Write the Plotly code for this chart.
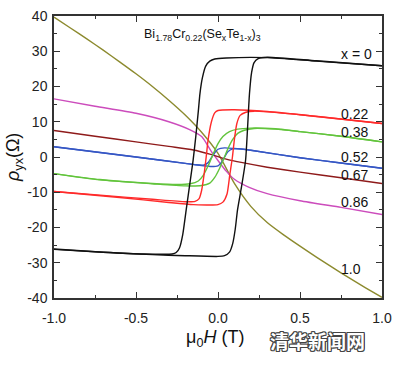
import plotly.graph_objects as go

# ---------------- data ----------------
# x = 0 (black) hysteresis loop
h_x0_up = [-1.0, -0.7, -0.4, -0.2, 0.0, 0.04, 0.07, 0.09, 0.105, 0.119, 0.145, 0.168, 0.18, 0.192, 0.205, 0.22, 0.245, 0.3, 0.6, 1.0]
rho_x0_up = [-26.1, -27.0, -27.7, -28.0, -28.2, -28.0, -27.0, -24.5, -20.5, -15.0, -8.0, -1.0, 8.0, 18.0, 24.0, 26.8, 27.9, 28.3, 27.3, 25.9]
h_x0_down = [-1.0, -0.7, -0.45, -0.28, -0.255, -0.235, -0.215, -0.194, -0.17, -0.152, -0.135, -0.12, -0.11, -0.095, -0.075, -0.05, -0.02, 0.05, 0.3, 0.6, 1.0]
rho_x0_down = [-26.2, -27.0, -27.5, -27.5, -27.1, -25.8, -22.0, -15.0, -7.0, -1.0, 6.0, 13.0, 18.0, 22.5, 25.8, 27.2, 27.8, 28.1, 28.2, 27.2, 25.9]

# x = 0.22 (red)
h_x022_up = [-1.0, -0.6, -0.3, -0.15, 0.0, 0.03, 0.055, 0.072, 0.088, 0.1, 0.115, 0.135, 0.17, 0.22, 0.5, 0.75, 1.0]
rho_x022_up = [-9.8, -11.5, -12.9, -13.5, -13.5, -12.8, -10.5, -5.0, 0.0, 5.0, 9.5, 11.8, 12.7, 13.0, 12.0, 10.8, 9.5]
h_x022_down = [-1.0, -0.7, -0.4, -0.2, -0.14, -0.115, -0.1, -0.085, -0.072, -0.06, -0.04, -0.02, 0.0, 0.1, 0.3, 0.6, 1.0]
rho_x022_down = [-9.8, -10.9, -12.0, -12.7, -12.6, -11.8, -9.5, -5.0, 0.0, 5.0, 10.0, 12.5, 13.2, 13.4, 12.9, 11.5, 9.5]

# x = 0.38 (green)
h_x038_up = [-1.0, -0.72, -0.4, -0.2, -0.1, -0.05, -0.02, 0.01, 0.035, 0.06, 0.09, 0.12, 0.16, 0.22, 0.35, 0.5, 0.75, 1.0]
rho_x038_up = [-4.7, -6.5, -7.6, -8.2, -8.1, -7.4, -5.8, -3.2, -0.5, 2.3, 5.0, 6.7, 7.6, 8.1, 7.9, 7.2, 5.9, 4.3]
h_x038_down = [-1.0, -0.72, -0.4, -0.25, -0.17, -0.12, -0.09, -0.06, -0.03, 0.0, 0.03, 0.07, 0.12, 0.2, 0.35, 0.5, 0.75, 1.0]
rho_x038_down = [-4.7, -6.4, -7.5, -7.8, -7.6, -6.8, -5.2, -2.5, 0.8, 3.8, 5.8, 7.2, 7.9, 8.2, 8.0, 7.2, 5.9, 4.3]

# x = 0.52 (blue)
h_x052_up = [-1.0, -0.5, -0.2, -0.1, -0.04, 0.0, 0.02, 0.04, 0.06, 0.09, 0.14, 0.2, 0.5, 0.75, 1.0]
rho_x052_up = [2.9, 0.0, -1.8, -2.4, -2.7, -2.5, -1.6, 0.0, 1.5, 2.3, 2.3, 1.9, -0.2, -1.7, -3.2]
h_x052_down = [-1.0, -0.5, -0.2, -0.14, -0.09, -0.06, -0.04, -0.02, 0.0, 0.04, 0.1, 0.2, 0.5, 0.75, 1.0]
rho_x052_down = [2.9, 0.0, -1.8, -2.2, -2.3, -1.6, -0.2, 1.2, 2.2, 2.6, 2.4, 1.9, -0.2, -1.7, -3.2]

# x = 0.67 (dark red)
h_x067 = [-1.0, -0.75, -0.5, -0.3, -0.15, -0.05, 0.0, 0.05, 0.15, 0.3, 0.5, 0.75, 1.0]
rho_x067 = [7.5, 5.9, 4.3, 3.0, 2.0, 0.8, 0.1, -0.6, -1.6, -2.9, -4.3, -5.9, -7.5]

# x = 0.86 (magenta)
h_x086 = [-1.0, -0.75, -0.5, -0.3, -0.17, -0.1, -0.07, -0.04, 0.0, 0.05, 0.1, 0.19, 0.3, 0.5, 0.75, 1.0]
rho_x086 = [16.5, 14.4, 12.4, 10.0, 7.7, 5.8, 3.8, 1.5, -1.0, -4.0, -6.3, -8.6, -10.4, -12.4, -14.3, -16.3]

# x = 1.0 (olive)
h_x10 = [-1.0, -0.9, -0.8, -0.7, -0.6, -0.5, -0.4, -0.3, -0.2, -0.1, 0.0, 0.1, 0.2, 0.3, 0.4, 0.5, 0.6, 0.7, 0.8, 0.9, 1.0]
rho_x10 = [39.7, 36.6, 33.5, 30.3, 27.0, 23.6, 20.0, 16.1, 11.9, 7.0, 1.0, -7.5, -14.0, -18.6, -22.1, -25.3, -28.4, -31.4, -34.3, -37.1, -39.8]

series_labels = ["x = 0", "0.22", "0.38", "0.52", "0.67", "0.86", "1.0"]
label_y = [29.1, 12.2, 7.2, 0.1, -5.2, -12.9, -31.8]
label_h = [0.738, 0.738, 0.738, 0.738, 0.738, 0.738, 0.738]

x_ticks = [-1.0, -0.5, 0.0, 0.5, 1.0]
x_tick_labels = ["-1.0", "-0.5", "0.0", "0.5", "1.0"]
x_minor = [-0.75, -0.25, 0.25, 0.75]
y_ticks = [-40, -30, -20, -10, 0, 10, 20, 30, 40]
y_tick_labels = ["-40", "-30", "-20", "-10", "0", "10", "20", "30", "40"]
y_minor = [-35, -25, -15, -5, 5, 15, 25, 35]

# ---------------- figure ----------------
BLACK = "#111111"
RED = "#ff2a2a"
GREEN = "#62c43c"
BLUE = "#3556c4"
DRED = "#8e1a1a"
MAG = "#cc4cbc"
OLIVE = "#8c8a2e"

traces = [
    (h_x10, rho_x10, OLIVE),
    (h_x086, rho_x086, MAG),
    (h_x067, rho_x067, DRED),
    (h_x052_up, rho_x052_up, BLUE),
    (h_x052_down, rho_x052_down, BLUE),
    (h_x038_up, rho_x038_up, GREEN),
    (h_x038_down, rho_x038_down, GREEN),
    (h_x022_up, rho_x022_up, RED),
    (h_x022_down, rho_x022_down, RED),
    (h_x0_up, rho_x0_up, BLACK),
    (h_x0_down, rho_x0_down, BLACK),
]

fig = go.Figure()
for hx, ry, col in traces:
    fig.add_trace(go.Scatter(
        x=hx, y=ry, mode="lines",
        line=dict(color=col, width=1.4, shape="spline", smoothing=0.6),
        hoverinfo="skip", showlegend=False,
    ))

FONT = "Liberation Sans, Arial, Helvetica, sans-serif"
AX = "#333333"

axis_common = dict(
    showline=True, linecolor=AX, linewidth=1.5, mirror="allticks",
    ticks="inside", ticklen=6, tickwidth=1.2, tickcolor=AX,
    showgrid=False, zeroline=False, automargin=False,
    tickfont=dict(family=FONT, size=14, color="#222"),
)

fig.update_xaxes(range=[-1, 1], tickmode="array", tickvals=x_ticks, ticktext=x_tick_labels,
                 minor=dict(tickmode="array", tickvals=x_minor, ticks="inside", ticklen=3.5,
                            tickwidth=1.2, tickcolor=AX, showgrid=False),
                 ticklabelstandoff=6, **axis_common)
fig.update_yaxes(range=[-40, 40], tickmode="array", tickvals=y_ticks, ticktext=y_tick_labels,
                 minor=dict(tickmode="array", tickvals=y_minor, ticks="inside", ticklen=3.5,
                            tickwidth=1.2, tickcolor=AX, showgrid=False),
                 ticklabelstandoff=2, **axis_common)

annotations = []
for txt, hx, yy in zip(series_labels, label_h, label_y):
    annotations.append(dict(x=hx, y=yy, xref="x", yref="y", text=txt, showarrow=False,
                            xanchor="left", yanchor="middle",
                            font=dict(family=FONT, size=14, color="#111")))

annotations.append(dict(
    x=-0.095, y=34.5, xref="x", yref="y", showarrow=False, xanchor="center", yanchor="middle",
    text="Bi<sub>1.78</sub>Cr<sub>0.22</sub>(Se<sub>x</sub>Te<sub>1-x</sub>)<sub>3</sub>",
    font=dict(family=FONT, size=12.5, color="#111")))

annotations.append(dict(
    x=-0.122, y=0.5, xref="paper", yref="paper", showarrow=False, textangle=-90,
    xanchor="center", yanchor="middle",
    text="<i>ρ</i><sub>yx</sub>(Ω)",
    font=dict(family=FONT, size=18, color="#111")))

annotations.append(dict(
    x=0.492, y=-0.142, xref="paper", yref="paper", showarrow=False,
    xanchor="center", yanchor="middle",
    text="μ<sub>0</sub><i>H</i> (T)",
    font=dict(family=FONT, size=18, color="#111")))

annotations.append(dict(
    x=0.803, y=-0.149, xref="paper", yref="paper", showarrow=False,
    xanchor="center", yanchor="middle",
    text="<b>清华新闻网</b>",
    font=dict(family="Noto Sans CJK SC", size=19, color="#ffffff",
              shadow="1px 1px 0 #444, -1px -1px 0 #444, 1px -1px 0 #444, -1px 1px 0 #444, 0 1px 0 #444, 0 -1px 0 #444, 1px 0 0 #444, -1px 0 0 #444")))

fig.update_layout(
    width=404, height=366,
    margin=dict(l=54, r=22, t=16, b=68),
    paper_bgcolor="white", plot_bgcolor="white",
    annotations=annotations,
    showlegend=False,
)

fig.write_html("out.html", config={"displayModeBar": False},
               post_script="document.body.style.margin='0';document.body.style.padding='0';")
